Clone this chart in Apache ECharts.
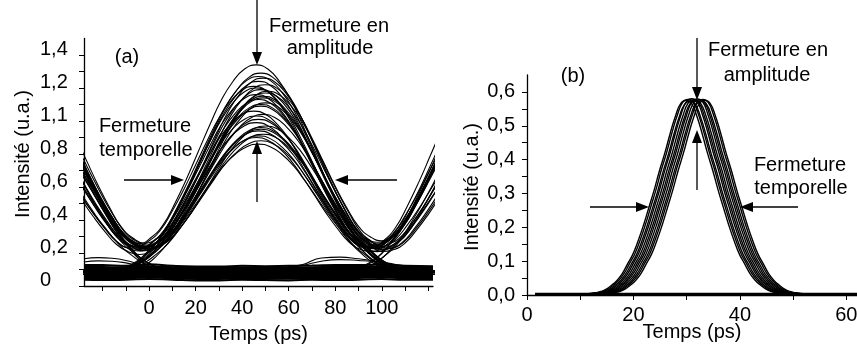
<!DOCTYPE html>
<html><head><meta charset="utf-8">
<script src="https://cdn.jsdelivr.net/npm/echarts@6/dist/echarts.min.js"></script>
<style>html,body{margin:0;padding:0;background:#fff}#c{width:857px;height:348px}</style>
</head><body><div id="c"></div>
<script>
// ---------- Panel (a) : eye diagram ----------
const xTickValuesA = [-20,-10,0,10,20,30,40,50,60,70,80,90,100,110,120];
const xLabelValuesA = [0,20,40,60,80,100];
const yTickValuesA = [0,0.1,0.2,0.3,0.4,0.5,0.6,0.7,0.8,0.9,1.0,1.1,1.2,1.3,1.4];
const yLabelValuesA = [0,0.2,0.4,0.6,0.8,1.0,1.2,1.4];
const yLabelsA = ["0","0,2","0,4","0,6","0,8","1,1","1,2","1,4"];

// normalised pulse shape (offset from pulse centre, ps)
const pulseOffsetsA = [0,5,10,15,20,25,30,35,40,45,50,55,60,65,70];
const pulseShapeA   = [1,0.98,0.92,0.83,0.71,0.58,0.45,0.33,0.22,0.14,0.075,0.035,0.012,0.003,0];

// one entry per recorded trace (peak of the bit, of the previous bit and of the next bit; 0 = "0" bit)
const peakA     = [1.34,1.29,1.26,1.24,1.22,1.21,1.19,1.18,1.16,1.14,1.13,1.11,1.09,1.06,1.04,1.01,0.99,0.97,0.96,0.94,0.92,0.90,0.88,0.86,1.27,1.20,1.15,1.10,1.03,0.95,0.91,1.17,0,0,0,0,0,0];
const centerA   = [46,48,49,47,50,45,48,51,46,49,47,50,48,45,49,47,46,50,48,47,49,46,48,47,47,46,49,48,46,48,47,50,47,48,46,49,47,48];
const prevPeakA = [1.20,0,1.12,0.95,0,1.10,1.25,0,0.88,1.15,0,1.05,0.92,0,1.05,1.22,0,0.98,1.12,0,1.08,0.85,0,1.00,0,1.05,0,1.10,0.90,0,1.12,0.95,1.18,0.90,1.26,0,1.08,0.80];
const nextPeakA = [0,1.22,0.90,0,1.30,1.05,0,1.15,0.95,0,1.26,0.88,0,1.12,1.00,0,1.32,0,0.92,1.18,0,1.08,0.98,0,1.15,0,1.24,0,1.10,1.22,0,0.90,0,1.20,0.86,1.10,0,1.28];
const baseA     = [0.08,0.09,0.07,0.08,0.10,0.08,0.09,0.07,0.08,0.09,0.08,0.07,0.09,0.08,0.10,0.08,0.07,0.09,0.08,0.08,0.09,0.07,0.08,0.09,0.08,0.07,0.09,0.08,0.08,0.09,0.07,0.08,0.08,0.09,0.07,0.08,0.09,0.08];

// "0" level band
const bandTimesA = [-28,-20,-10,0,10,20,30,40,50,60,70,80,90,100,110,122];
const bandLowA   = [0.038,0.036,0.038,0.042,0.038,0.034,0.034,0.038,0.036,0.034,0.038,0.036,0.038,0.042,0.038,0.038];
const bandHighA  = [0.127,0.127,0.122,0.132,0.122,0.118,0.118,0.122,0.120,0.122,0.124,0.127,0.127,0.132,0.122,0.120];

// small glitches on the "0" level
const glitchTimesA = [50,58,66,74,82,90,98,106,114,122];
const glitch1A     = [0.110,0.115,0.130,0.170,0.175,0.165,0.150,0.130,0.115,0.100];
const glitch2A     = [0.105,0.110,0.125,0.150,0.160,0.155,0.145,0.125,0.110,0.100];
const leftTimesA   = [-28,-22,-16,-10,-5,0,5];
const left1A       = [0.165,0.172,0.168,0.155,0.135,0.115,0.105];
const left2A       = [0.145,0.152,0.150,0.140,0.125,0.110,0.100];

// ---------- Panel (b) ----------
const xTickValuesB = [0,10,20,30,40,50,60];
const xLabelValuesB = [0,20,40,60];
const yTickValuesB = [0,0.05,0.1,0.15,0.2,0.25,0.3,0.35,0.4,0.45,0.5,0.55,0.6];
const yLabelValuesB = [0,0.1,0.2,0.3,0.4,0.5,0.6];

const pulseShapeB = [1.0,0.985,0.92,0.83,0.73,0.64,0.54,0.45,0.36,0.28,0.21,0.16,0.11,0.075,0.05,0.03,0.018,0.012,0.008,0.005,0.003,0.001,0];
const centerB = [29.9,30.25,30.6,30.95,31.3,31.65,32.0,32.35,32.7,33.05,33.4];
const peakB   = [0.575,0.578,0.572,0.580,0.576,0.574,0.579,0.577,0.573,0.578,0.575];
const baseTimesB = [1.5,62];
const baseLevelB = [0.002,0.002];

// ---------- build ----------
function gA(d){ d=Math.abs(d); const i=pulseOffsetsA.indexOf(d); return i<0?0:pulseShapeA[i]; }
const series = [];
const lineStyleA = {color:'#000', width:1.1};

// band: thick line along its middle + thin edges
series.push({type:'line', xAxisIndex:0, yAxisIndex:0, symbol:'none', smooth:true,
  lineStyle:{color:'#000', width:13}, data: bandTimesA.map((t,i)=>[t,(bandLowA[i]+bandHighA[i])/2]), silent:true});
series.push({type:'line', xAxisIndex:0, yAxisIndex:0, symbol:'none', smooth:true,
  lineStyle:{color:'#000', width:2}, data: bandTimesA.map((t,i)=>[t,bandLowA[i]]), silent:true});
series.push({type:'line', xAxisIndex:0, yAxisIndex:0, symbol:'none', smooth:true,
  lineStyle:{color:'#000', width:2}, data: bandTimesA.map((t,i)=>[t,bandHighA[i]]), silent:true});

for (let n=0;n<peakA.length;n++){
  const b=baseA[n], c=centerA[n];
  const amp = peakA[n]>0 ? peakA[n]-b : 0;
  const pa = prevPeakA[n]>0 ? prevPeakA[n]-b : 0;
  const na = nextPeakA[n]>0 ? nextPeakA[n]-b : 0;
  const data=[];
  for (let k=-17;k<=17;k++){
    const d=5*k;
    data.push([c+d, b + amp*gA(d) + pa*gA(d+100) + na*gA(d-100)]);
  }
  series.push({type:'line', xAxisIndex:0, yAxisIndex:0, symbol:'none', smooth:true, lineStyle:lineStyleA, data, silent:true});
}
[[glitchTimesA,glitch1A],[glitchTimesA,glitch2A],[leftTimesA,left1A],[leftTimesA,left2A]].forEach(([ts,vs])=>{
  series.push({type:'line', xAxisIndex:0, yAxisIndex:0, symbol:'none', smooth:true, lineStyle:lineStyleA,
    data: ts.map((t,i)=>[t,vs[i]]), silent:true});
});

for (let n=0;n<centerB.length;n++){
  const data=[];
  for (let k=-22;k<=22;k++) data.push([centerB[n]+k, peakB[n]*pulseShapeB[Math.abs(k)]]);
  series.push({type:'line', xAxisIndex:1, yAxisIndex:1, symbol:'none', smooth:true, lineStyle:{color:'#000',width:1.4}, data, silent:true});
}
series.push({type:'line', xAxisIndex:1, yAxisIndex:1, symbol:'none', lineStyle:{color:'#000',width:3},
  data: baseTimesB.map((t,i)=>[t,baseLevelB[i]]), silent:true});

const FONT = 'Liberation Sans';
const lab = {color:'#000', fontSize:20, fontFamily:FONT};
function xAxisCfg(idx,min,max,ticks,labels,margin,gap){
  return {type:'value', gridIndex:idx, min, max, name:'Temps (ps)', nameLocation:'middle', nameGap:gap,
    nameMoveOverlap:false,
    nameTextStyle:{color:'#000', fontSize:20, fontFamily:FONT},
    axisLine:{show:true, onZero:false, lineStyle:{color:'#000', width:1.3}},
    axisTick:{show:true, length:5, customValues:ticks, lineStyle:{color:'#000', width:1}},
    axisLabel:Object.assign({customValues:labels, margin, formatter:v=>String(v)}, lab),
    splitLine:{show:false}};
}
const option = {
  animation:false,
  backgroundColor:'#fff',
  grid:[{left:84, top:38.5, width:349, height:247.5, containLabel:false, outerBoundsMode:'none'},
        {left:527, top:75, width:330, height:220, containLabel:false, outerBoundsMode:'none'}],
  xAxis:[xAxisCfg(0,-28,122,xTickValuesA,xLabelValuesA,12,38), xAxisCfg(1,0,62,xTickValuesB,xLabelValuesB,10,27)],
  yAxis:[
    {type:'value', gridIndex:0, min:0, max:1.5,
      axisLine:{show:true, onZero:false, lineStyle:{color:'#000', width:1.3}},
      axisTick:{show:true, length:5, customValues:yTickValuesA, lineStyle:{color:'#000', width:1}},
      axisLabel:Object.assign({customValues:yLabelValuesA, margin:44, align:'left', verticalAlign:'bottom', lineHeight:12,
        formatter:v=>yLabelsA[Math.round(v/0.2)]}, lab),
      splitLine:{show:false}},
    {type:'value', gridIndex:1, min:0, max:0.65,
      axisLine:{show:true, onZero:false, lineStyle:{color:'#000', width:1.3}},
      axisTick:{show:true, length:5, customValues:yTickValuesB, lineStyle:{color:'#000', width:1}},
      axisLabel:Object.assign({customValues:yLabelValuesB, margin:12,
        formatter:v=>v.toFixed(1).replace('.',',')}, lab),
      splitLine:{show:false}}
  ],
  series
};

function txt(x,y,s,rot){
  return {type:'text', x, y, rotation:rot||0, z:100, silent:true,
    style:{text:s, font:'20px "Liberation Sans"', fill:'#000', align:'center', verticalAlign:'middle'}};
}
function arrow(x1,y1,x2,y2){
  const L=Math.hypot(x2-x1,y2-y1), ux=(x2-x1)/L, uy=(y2-y1)/L, hl=13, hw=5;
  const bx=x2-ux*hl, by=y2-uy*hl;
  return [
    {type:'line', z:100, silent:true, shape:{x1,y1,x2:bx,y2:by}, style:{stroke:'#000', lineWidth:1.3}},
    {type:'polygon', z:100, silent:true, shape:{points:[[x2,y2],[bx-uy*hw,by+ux*hw],[bx+uy*hw,by-ux*hw]]}, style:{fill:'#000'}}
  ];
}
option.graphic = [
  txt(23,154,'Intensité (u.a.)',Math.PI/2),
  txt(472,187,'Intensité (u.a.)',Math.PI/2),
  txt(127,57,'(a)'), txt(329,26,'Fermeture en'), txt(330,48,'amplitude'),
  txt(145,126,'Fermeture'), txt(146,150,'temporelle'),
  txt(573,76,'(b)'), txt(768,50,'Fermeture en'), txt(767,75,'amplitude'),
  txt(800,165,'Fermeture'), txt(801,188,'temporelle'),
  ...arrow(257,0,257,65), ...arrow(257,202,257,141),
  ...arrow(124,180,184,180), ...arrow(397,180,335,180),
  ...arrow(697,38,697,100), ...arrow(697,190,697,130),
  ...arrow(590,207,649,207), ...arrow(798,207,740,207)
];
const chart = echarts.init(document.getElementById('c'), null, {renderer:'canvas'});
chart.setOption(option);
</script></body></html>
